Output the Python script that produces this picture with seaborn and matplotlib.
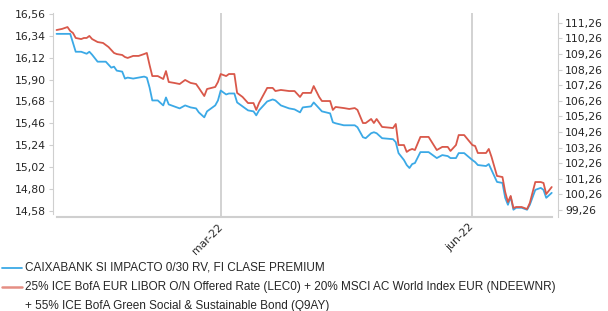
import numpy as np
import pandas as pd
import matplotlib
matplotlib.use("Agg")
import matplotlib.pyplot as plt
import matplotlib.dates as mdates
from matplotlib.lines import Line2D
import seaborn as sns

# Data (days counted from 31-dec-2021)
start_date = "2021-12-31"
day_offsets = [0, 2, 4, 5, 6, 7, 9, 10, 11, 12, 13, 15, 17, 18, 19, 20, 21, 22, 24, 25,
               26, 28, 30, 32, 33, 34, 35, 37, 39, 40, 41, 43, 45, 47, 49, 51, 52, 54, 55, 58,
               59, 60, 62, 63, 65, 66, 68, 70, 72, 73, 74, 77, 79, 80, 82, 85, 87, 89, 90, 93,
               94, 96, 97, 100, 101, 102, 105, 107, 109, 110, 112, 113, 115, 116, 117, 119, 123, 124, 125, 127,
               128, 129, 130, 131, 133, 136, 139, 141, 143, 144, 146, 147, 149, 152, 153, 154, 157, 158, 159, 161,
               163, 164, 165, 166, 167, 168, 170, 172, 173, 175, 177, 178, 179, 181]
fund = [16.36, 16.36, 16.36, 16.36, 16.27, 16.18, 16.18, 16.17, 16.16, 16.18, 16.15, 16.08, 16.08, 16.08, 16.05, 16.02, 16.03, 15.99, 15.98, 15.91,
        15.92, 15.91, 15.92, 15.93, 15.92, 15.82, 15.69, 15.69, 15.64, 15.72, 15.65, 15.63, 15.61, 15.64, 15.62, 15.61, 15.57, 15.52, 15.58, 15.64,
        15.69, 15.79, 15.75, 15.76, 15.76, 15.67, 15.63, 15.59, 15.58, 15.54, 15.59, 15.68, 15.70, 15.69, 15.64, 15.61, 15.60, 15.57, 15.62, 15.63,
        15.67, 15.61, 15.58, 15.56, 15.47, 15.46, 15.44, 15.44, 15.44, 15.42, 15.32, 15.31, 15.36, 15.37, 15.36, 15.31, 15.30, 15.27, 15.16, 15.09,
        15.04, 15.01, 15.05, 15.06, 15.17, 15.17, 15.11, 15.14, 15.13, 15.11, 15.11, 15.16, 15.16, 15.09, 15.07, 15.04, 15.03, 15.05, 14.99, 14.87,
        14.86, 14.71, 14.64, 14.72, 14.59, 14.61, 14.61, 14.59, 14.64, 14.79, 14.81, 14.79, 14.71, 14.76]
bench = [110.79, 110.86, 110.98, 110.73, 110.60, 110.28, 110.21, 110.28, 110.28, 110.41, 110.21, 110.02, 109.96, 109.83, 109.70, 109.51, 109.32, 109.25, 109.19, 109.06,
         109.00, 109.13, 109.13, 109.25, 109.32, 108.55, 107.84, 107.84, 107.65, 108.16, 107.46, 107.40, 107.33, 107.59, 107.40, 107.33, 107.08, 106.56, 107.01, 107.14,
         107.46, 107.97, 107.84, 107.97, 107.97, 106.76, 106.50, 106.11, 106.11, 105.67, 106.11, 107.08, 107.08, 106.88, 106.95, 106.88, 106.88, 106.50, 106.76, 106.76,
         107.20, 106.50, 106.24, 106.24, 105.67, 105.86, 105.79, 105.73, 105.79, 105.67, 104.83, 104.83, 105.09, 104.83, 105.09, 104.58, 104.51, 104.77, 103.42, 103.42,
         102.98, 103.10, 103.17, 103.10, 103.94, 103.94, 103.10, 103.30, 103.30, 103.04, 103.42, 104.06, 104.06, 103.42, 103.36, 102.91, 102.91, 103.17, 102.66, 101.44,
         101.37, 100.41, 99.77, 100.16, 99.39, 99.45, 99.45, 99.32, 99.71, 101.05, 101.05, 100.99, 100.28, 100.73]

left_ticks = [14.58, 14.80, 15.02, 15.24, 15.46, 15.68, 15.90, 16.12, 16.34, 16.56]
right_ticks = [99.26, 100.26, 101.26, 102.26, 103.26, 104.26, 105.26, 106.26, 107.26, 108.26, 109.26, 110.26, 111.26]
month_ticks = ["2022-03-01", "2022-06-01"]
month_labels = ["mar-22", "jun-22"]

fund_label = "CAIXABANK SI IMPACTO 0/30 RV, FI CLASE PREMIUM"
bench_label = ("25% ICE BofA EUR LIBOR O/N Offered Rate (LEC0) + 20% MSCI AC World Index EUR (NDEEWNR)\n"
               "+ 55% ICE BofA Green Social & Sustainable Bond (Q9AY)")

blue = "#3BA9E6"
red = "#D9584A"
grey = "#CFCFCF"
txt = "#262626"

t0 = pd.Timestamp(start_date)
df = pd.DataFrame({"date": t0 + pd.to_timedelta(day_offsets, unit="D"),
                   "fund": fund, "bench": bench})

sns.set_style("white")
plt.rcParams["font.family"] = ["DejaVu Sans"]

fig = plt.figure(figsize=(6.08, 3.11), dpi=100)
ax = fig.add_axes([53 / 608, 1 - 217 / 311, 505 / 608, 204 / 311])
ax2 = ax.twinx()

sns.lineplot(data=df, x="date", y="fund", ax=ax, color=blue, lw=1.3)
sns.lineplot(data=df, x="date", y="bench", ax=ax2, color=red, lw=1.3)

ax.set_xlim(t0 - pd.Timedelta(days=1.3), t0 + pd.Timedelta(days=183.3))
ax.set_ylim(14.517, 16.57)
ax2.set_ylim(98.81, 111.88)

ax.set_yticks(left_ticks)
ax.set_yticklabels([f"{v:.2f}".replace(".", ",") for v in left_ticks])
ax2.set_yticks(right_ticks)
ax2.set_yticklabels([f"{v:.2f}".replace(".", ",") for v in right_ticks])

ax.set_xticks(pd.to_datetime(month_ticks))
ax.set_xticklabels(month_labels, rotation=45, ha="right", va="center",
                   rotation_mode="anchor")
ax.xaxis.grid(True, color=grey, lw=1.3)
ax.set_axisbelow(True)

for a in (ax, ax2):
    a.set_xlabel("")
    a.set_ylabel("")
    a.spines["top"].set_visible(False)
    for s in a.spines.values():
        s.set_color(grey)
ax.spines["right"].set_visible(False)
ax2.spines["left"].set_visible(False)
ax2.spines["bottom"].set_visible(False)
ax.spines["bottom"].set_bounds(mdates.date2num(df["date"].iloc[0]),
                               mdates.date2num(df["date"].iloc[-1]))
ax.spines["bottom"].set_linewidth(1.5)
ax.spines["left"].set_bounds(14.55, 16.57)

ax.tick_params(axis="y", length=3, width=0.8, color=grey, labelsize=7.8, labelcolor=txt, pad=2)
ax2.tick_params(axis="y", length=3, width=0.8, color=grey, labelsize=7.8, labelcolor=txt, pad=2)
ax.tick_params(axis="x", length=0, labelsize=7.8, labelcolor=txt, pad=6)

# legend below the chart
legend_font = ["Liberation Sans", "DejaVu Sans"]
fig.add_artist(Line2D([2 / 608, 22 / 608], [1 - 268 / 311] * 2, color=blue, lw=1.3))
fig.text(25 / 608, 1 - 268 / 311, fund_label, fontsize=8.5, color=txt, va="center",
         family=legend_font)
fig.add_artist(Line2D([2 / 608, 22 / 608], [1 - 287 / 311] * 2, color="#E58E84", lw=1.8))
fig.text(25 / 608, 1 - 296.5 / 311, bench_label, fontsize=8.5, color=txt, va="center",
         linespacing=1.7, family=legend_font)

fig.savefig("out.png", dpi=100)
